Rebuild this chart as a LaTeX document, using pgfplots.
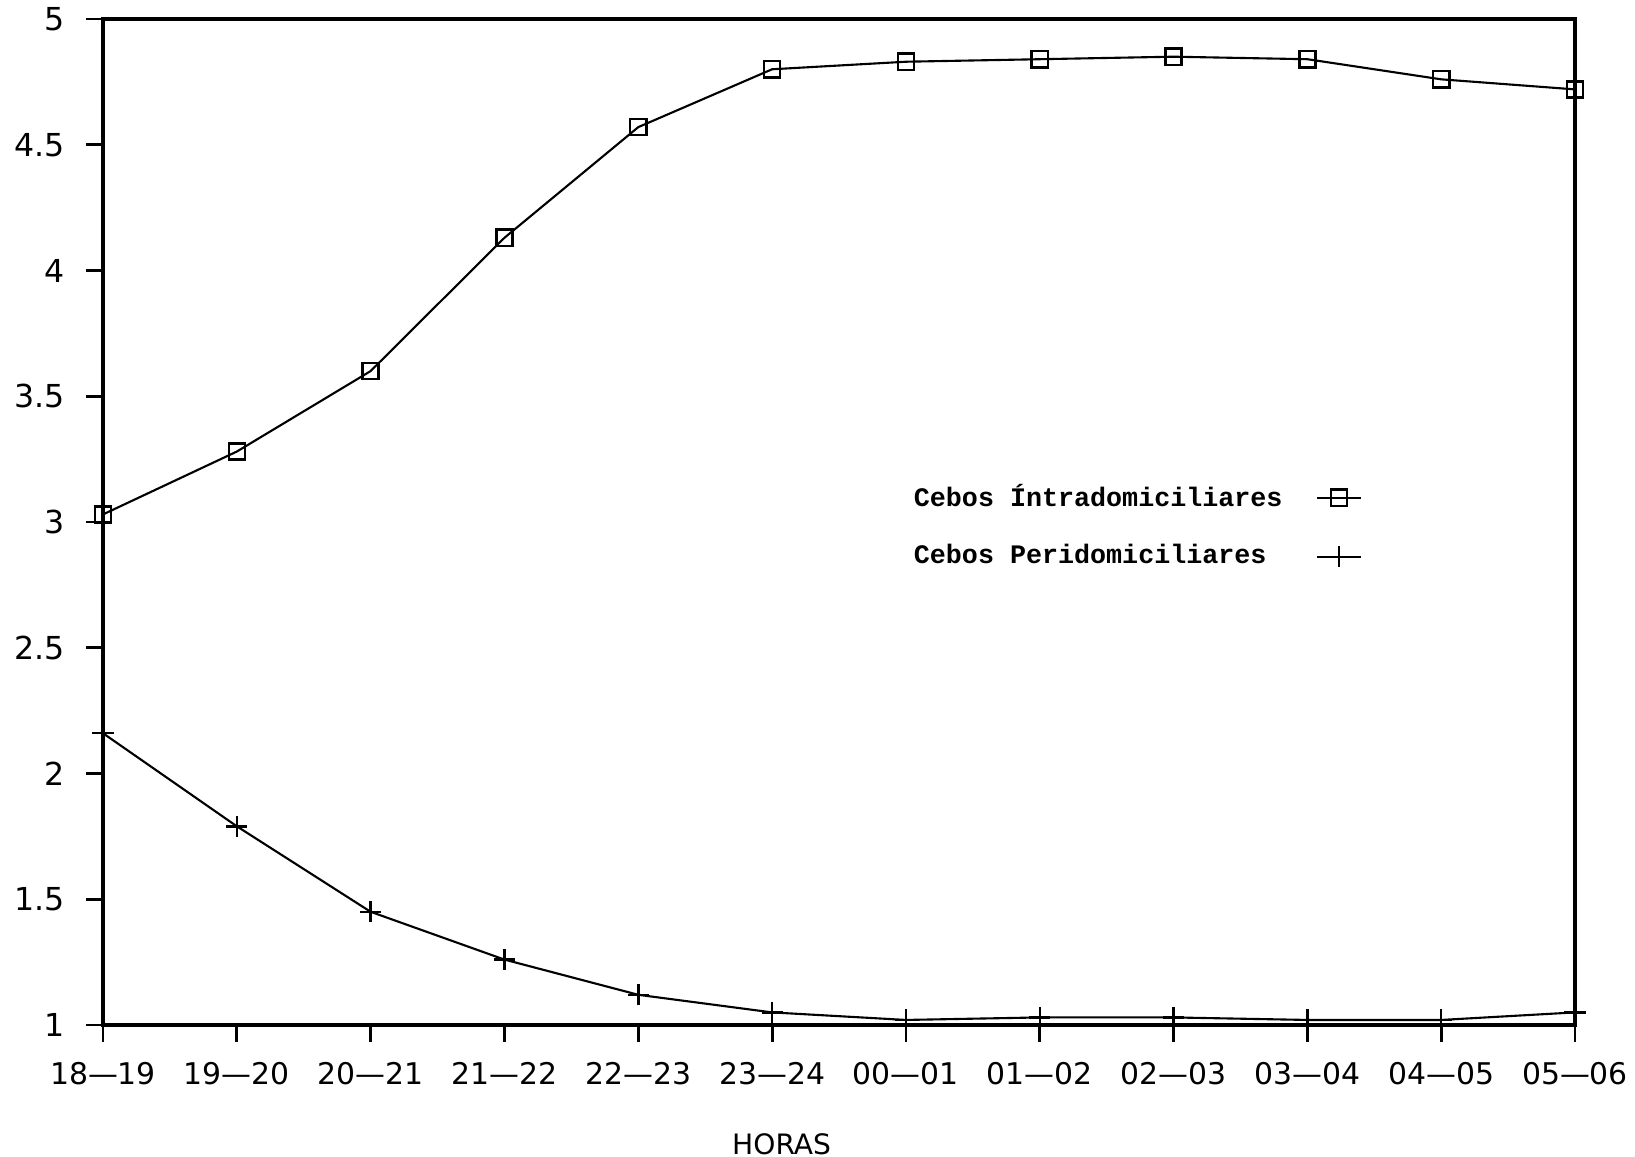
\documentclass[border=0pt]{standalone}
\usepackage{fontspec}
\setmainfont{DejaVu Sans}
\newfontfamily\legfont{Liberation Mono}
\usepackage{pgfplots}
\usepackage{pgfplotstable}
\pgfplotsset{compat=1.18}

% x: 0 = 18-19 ... 11 = 05-06
\pgfplotstableread{
x intra peri
0  3.03 2.16
1  3.28 1.79
2  3.60 1.45
3  4.13 1.26
4  4.57 1.12
5  4.80 1.05
6  4.83 1.02
7  4.84 1.03
8  4.85 1.03
9  4.84 1.02
10 4.76 1.02
11 4.72 1.05
}\datos

\begin{document}
\begin{tikzpicture}
\begin{axis}[
  name=ax,
  scale only axis,
  width=147.2mm, height=100.6mm,
  xmin=0, xmax=11, ymin=1, ymax=5,
  xtick={0,...,11},
  xticklabels={18---19,19---20,20---21,21---22,22---23,23---24,00---01,01---02,02---03,03---04,04---05,05---06},
  ytick={1,1.5,...,5},
  tick align=outside, xtick pos=bottom, ytick pos=left,
  major tick length=1.7mm,
  axis line style={line width=0.9pt},
  every tick/.style={black, line width=0.8pt},
  xticklabel style={font=\fontsize{8.5}{10}\selectfont, yshift=-0.8mm},
  yticklabel style={font=\fontsize{9}{10}\selectfont, xshift=-0.9mm},
  /pgf/number format/assume math mode=true,
  legend plot pos=right,
  legend cell align=left,
  legend style={draw=none, fill=none, inner sep=0pt, at={(0.548,0.542)}, anchor=north west,
    font=\legfont\bfseries\fontsize{7.6}{8}\selectfont, row sep=2.6mm,
    nodes={inner sep=1pt},
    /tikz/every odd column/.append style={column sep=3mm}},
  legend image code/.code={
    \draw[mark repeat=2,mark phase=2,#1] plot coordinates {(0cm,0cm) (0.22cm,0cm) (0.44cm,0cm)};
  },
]
\addplot[black, line width=0.6pt, mark=square, mark size=2.3pt, mark options={line width=0.7pt}] table[x=x, y=intra] {\datos};
\addlegendentry{Cebos Íntradomiciliares}
\addplot[black, line width=0.6pt, mark=+, mark size=3pt, mark options={line width=0.7pt}] table[x=x, y=peri] {\datos};
\addlegendentry{Cebos Peridomiciliares}
\end{axis}
% eje x: titulo
\node[font=\fontsize{8}{9}\selectfont, anchor=center] at ([xshift=0.461*147.2mm, yshift=-11.9mm]ax.south west) {HORAS};
\pgfresetboundingbox
\path[use as bounding box] ([xshift=-10.3mm,yshift=-13.2mm]ax.south west) rectangle ([xshift=6.0mm,yshift=1.9mm]ax.north east);
\end{tikzpicture}
\end{document}
